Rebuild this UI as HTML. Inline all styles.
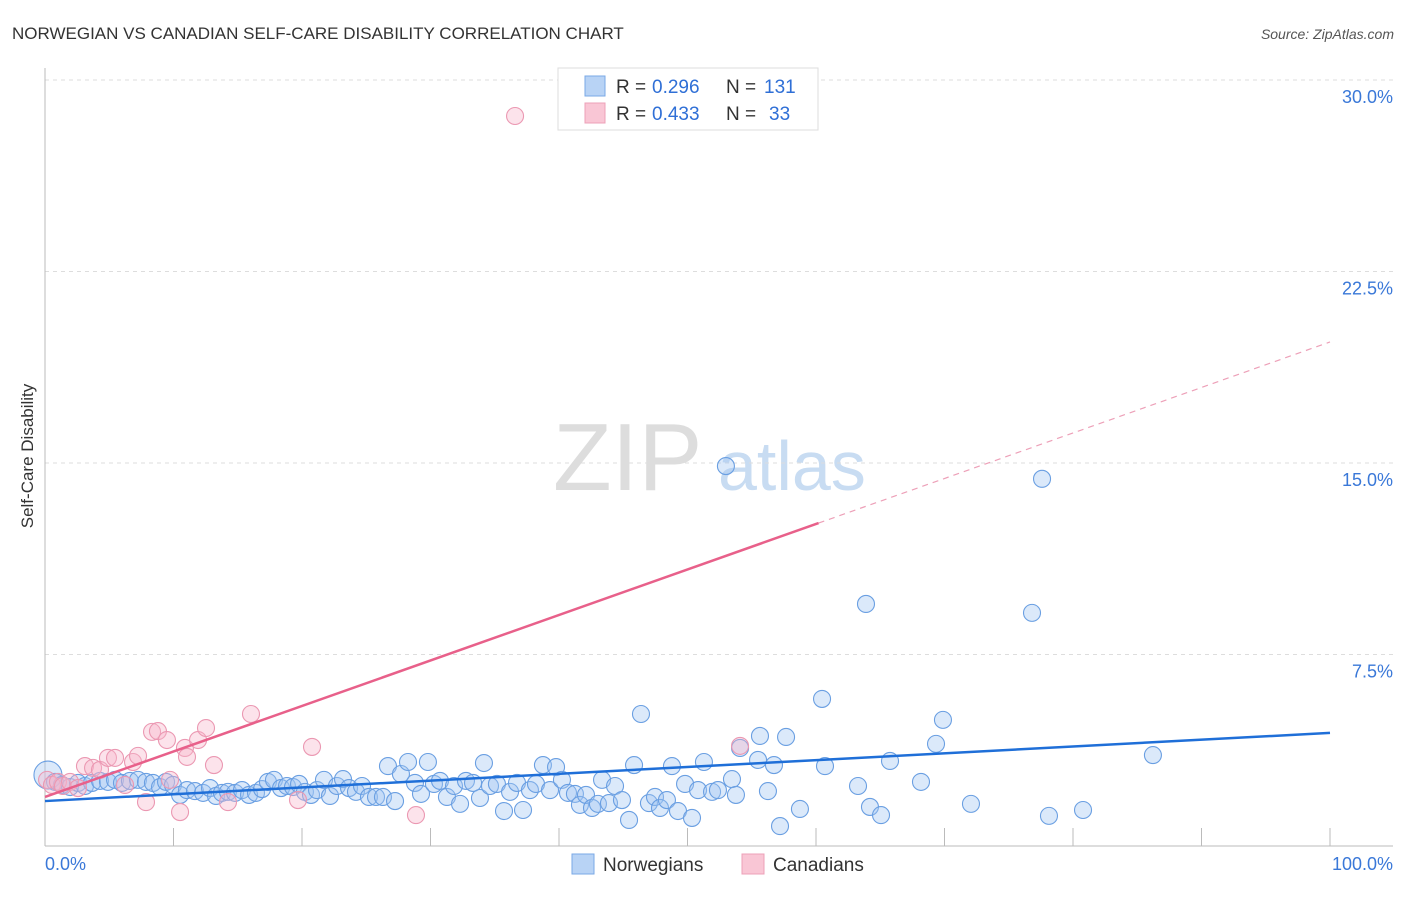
<!DOCTYPE html>
<html><head><meta charset="utf-8"><style>
body{margin:0;background:#fff;font-family:"Liberation Sans",sans-serif;}
svg text{font-family:"Liberation Sans",sans-serif;}
</style></head><body>
<svg id="c" width="1406" height="892" xmlns="http://www.w3.org/2000/svg">
<text x="12" y="39" font-size="17" fill="#333">NORWEGIAN VS CANADIAN SELF-CARE DISABILITY CORRELATION CHART</text>
<text x="1394" y="39" font-size="14" fill="#555" text-anchor="end" font-style="italic">Source: ZipAtlas.com</text>
<text x="33" y="456" font-size="17" fill="#333" text-anchor="middle" transform="rotate(-90 33 456)">Self-Care Disability</text>
<text x="553" y="490" font-size="96" fill="#ddd" font-family="Liberation Serif">ZIP</text>
<text x="718" y="490" font-size="70" fill="#c8dcf2">atlas</text>
<g id="grid"></g><g id="pts"></g><g id="lines"></g>
<g>
<rect x="558" y="68" width="260" height="62" fill="#fff" stroke="#ddd"/>
<rect x="585" y="76" width="20" height="20" fill="#b8d3f5" stroke="#7aa8e6"/>
<rect x="585" y="103" width="20" height="20" fill="#f9c6d5" stroke="#eda0b8"/>
<text x="616" y="93" font-size="19" fill="#333">R = </text><text x="652" y="93" font-size="19" fill="#2f6fd6">0.296</text>
<text x="726" y="93" font-size="19" fill="#333">N = </text><text x="764" y="93" font-size="19" fill="#2f6fd6">131</text>
<text x="616" y="120" font-size="19" fill="#333">R = </text><text x="652" y="120" font-size="19" fill="#2f6fd6">0.433</text>
<text x="726" y="120" font-size="19" fill="#333">N = </text><text x="769" y="120" font-size="19" fill="#2f6fd6">33</text>
</g>
<g>
<rect x="572" y="854" width="22" height="20" fill="#b8d3f5" stroke="#7aa8e6"/>
<text x="603" y="871" font-size="19" fill="#333">Norwegians</text>
<rect x="742" y="854" width="22" height="20" fill="#f9c6d5" stroke="#eda0b8"/>
<text x="773" y="871" font-size="19" fill="#333">Canadians</text>
</g>
</svg>
<script>
const yTicks=[7.5,15,22.5,30];
const xTicks=[0,10,20,30,40,50,60,70,80,90,100];
const norX=[0.23,0.78,1.32,1.95,2.57,3.11,3.66,4.28,4.90,5.45,5.99,6.61,7.24,7.86,8.40,8.95,9.42,9.96,10.51,11.05,11.67,12.30,12.84,13.31,13.77,14.24,14.79,15.33,15.88,16.42,16.89,17.35,17.82,18.37,18.83,19.30,19.77,20.23,20.70,21.17,21.71,22.18,22.72,23.19,23.66,24.20,24.67,25.21,25.76,26.30,26.69,27.24,27.70,28.25,28.79,29.26,29.80,30.27,30.74,31.28,31.83,32.30,32.76,33.31,33.85,34.16,34.63,35.17,35.72,36.19,36.73,37.20,37.74,38.21,38.75,39.30,39.77,40.23,40.70,41.24,41.63,42.10,42.57,43.03,43.35,43.89,44.36,44.90,45.45,45.84,46.38,47.00,47.47,47.86,48.40,48.79,49.26,49.81,50.35,50.82,51.28,51.91,52.37,52.99,53.46,53.77,54.09,55.49,55.64,56.26,56.73,57.20,57.67,58.75,60.47,60.70,63.27,63.89,64.20,65.06,65.76,68.17,69.34,69.88,72.06,76.81,77.59,78.13,80.78,86.22];
const norY=[2.78,2.51,2.39,2.31,2.47,2.35,2.47,2.55,2.51,2.59,2.47,2.55,2.59,2.51,2.47,2.31,2.51,2.39,2.00,2.19,2.15,2.08,2.27,1.96,2.08,2.12,2.08,2.19,2.00,2.08,2.23,2.51,2.59,2.27,2.35,2.31,2.43,2.12,2.00,2.19,2.59,1.96,2.35,2.62,2.27,2.12,2.35,1.92,1.92,1.92,3.13,1.76,2.82,3.29,2.47,2.04,3.29,2.43,2.55,1.92,2.35,1.65,2.55,2.47,1.88,3.25,2.35,2.43,1.37,2.12,2.47,1.41,2.19,2.43,3.17,2.19,3.09,2.59,2.08,2.04,1.61,2.00,1.49,1.65,2.59,1.68,2.35,1.80,1.02,3.17,5.17,1.68,1.92,1.49,1.80,3.13,1.37,2.43,1.10,2.19,3.29,2.12,2.19,14.88,2.62,2.00,3.84,3.37,4.31,2.15,3.17,0.78,4.27,1.45,5.76,3.13,2.35,9.48,1.53,1.21,3.33,2.51,4.00,4.94,1.65,9.13,14.38,1.18,1.41,3.56];
const canX=[0.16,0.54,1.01,1.40,1.95,2.57,3.11,3.74,4.28,4.90,5.45,6.23,6.85,7.24,7.86,8.33,8.79,9.49,9.73,10.51,10.89,11.05,11.91,12.53,13.15,14.24,16.03,19.69,20.78,28.87,36.58,54.09];
const canY=[2.59,2.39,2.51,2.35,2.51,2.27,3.13,3.06,2.98,3.45,3.45,2.39,3.29,3.53,1.72,4.47,4.50,4.15,2.59,1.33,3.84,3.49,4.15,4.62,3.17,1.72,5.17,1.80,3.88,1.21,28.59,3.92];
const norTrend=[1.76,4.43];
const canTrend=[1.92,19.74];
const canSolidEnd=60.2;

const X0=45,X1=1330,Y0=846,YT=80;
const sx=v=>X0+(X1-X0)*v/100;
const sy=v=>Y0-(Y0-YT)*v/30;
const NS='http://www.w3.org/2000/svg';
function mk(tag,attrs,parent){const e=document.createElementNS(NS,tag);for(const k in attrs)e.setAttribute(k,attrs[k]);parent.appendChild(e);return e;}
const grid=document.getElementById('grid');
yTicks.forEach(t=>{
  const l=mk('line',{x1:X0,x2:1393,y1:sy(t),y2:sy(t),stroke:'#ddd','stroke-dasharray':'4,4'},grid);
  
  
  const tx=mk('text',{x:1393,y:sy(t)+23,'font-size':18,fill:'#3a78d8','text-anchor':'end'},grid);
  tx.textContent=t.toFixed(1)+'%';
  
  
});
const ax=mk('line',{x1:X0,x2:X0,y1:68,y2:Y0,stroke:'#bbb'},grid);


const bx=mk('line',{x1:X0,x2:1393,y1:Y0,y2:Y0,stroke:'#bbb'},grid);


xTicks.forEach(t=>{
  const l=mk('line',{x1:sx(t),x2:sx(t),y1:Y0-18,y2:Y0,stroke:'#bbb'},grid);
  
  
});
[[0,'start',45],[100,'end',1393]].forEach(([v,a,x])=>{
  const tx=mk('text',{x:x,y:870,'font-size':18,fill:'#3a78d8','text-anchor':a},grid);
  tx.textContent=v.toFixed(1)+'%';
  
  
});
const pts=document.getElementById('pts');
norX.forEach((x,i)=>{
  const c=mk('circle',{cx:sx(x),cy:sy(norY[i]),r:i===0?14:8.5,fill:'rgba(160,198,242,0.38)',stroke:'#6a9fe2','stroke-width':1.1},pts);
  
  
});
canX.forEach((x,i)=>{
  const c=mk('circle',{cx:sx(x),cy:sy(canY[i]),r:8.5,fill:'rgba(248,182,202,0.38)',stroke:'#eb98b2','stroke-width':1.1},pts);
  
  
});
const lines=document.getElementById('lines');
const nl=mk('line',{x1:sx(0),y1:sy(norTrend[0]),x2:sx(100),y2:sy(norTrend[1]),stroke:'#1f6fd8','stroke-width':2.5},lines);


const cy=x=>canTrend[0]+(canTrend[1]-canTrend[0])*x/100;
const cl=mk('line',{x1:sx(0),y1:sy(cy(0)),x2:sx(canSolidEnd),y2:sy(cy(canSolidEnd)),stroke:'#e8608a','stroke-width':2.5},lines);


const cd=mk('line',{x1:sx(canSolidEnd),y1:sy(cy(canSolidEnd)),x2:sx(100),y2:sy(cy(100)),stroke:'#eda0b8','stroke-width':1.2,'stroke-dasharray':'6,5'},lines);


</script>
</body></html>
